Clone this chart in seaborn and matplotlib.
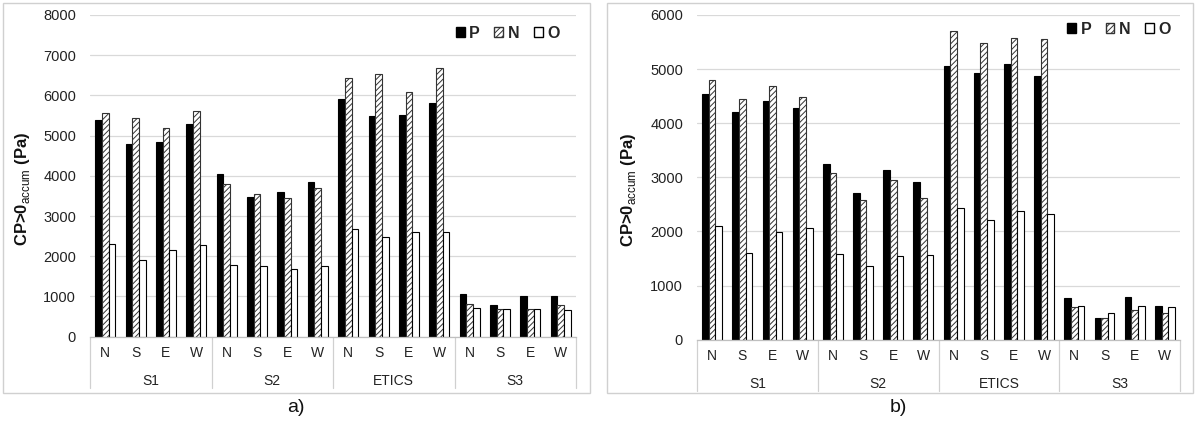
import matplotlib
matplotlib.use("Agg")
import matplotlib.pyplot as plt
from matplotlib.patches import Rectangle, Patch
import seaborn as sns
import pandas as pd

groups = ["S1", "S2", "ETICS", "S3"]
orients = ["N", "S", "E", "W"]
series = ["P", "N", "O"]

P_a = [5390, 4790, 4840, 5290, 4045, 3470, 3600, 3855, 5905, 5490, 5520, 5820, 1065, 785, 1015, 1015]
N_a = [5555, 5440, 5180, 5620, 3790, 3545, 3440, 3700, 6440, 6525, 6075, 6675, 820, 680, 695, 795]
O_a = [2315, 1900, 2155, 2290, 1770, 1745, 1685, 1745, 2680, 2470, 2605, 2605, 720, 680, 695, 670]

P_b = [4535, 4205, 4405, 4285, 3250, 2710, 3135, 2905, 5055, 4920, 5095, 4865, 770, 400, 795, 620]
N_b = [4800, 4440, 4690, 4480, 3075, 2575, 2955, 2610, 5710, 5485, 5570, 5550, 595, 400, 555, 495]
O_b = [2105, 1605, 1990, 2060, 1585, 1365, 1540, 1560, 2430, 2215, 2370, 2330, 630, 495, 630, 595]

sns.set_theme(style="white")
plt.rcParams['font.family'] = ['Liberation Sans', 'DejaVu Sans']
plt.rcParams['mathtext.fontset'] = 'custom'
plt.rcParams['mathtext.rm'] = 'Liberation Sans'
plt.rcParams['mathtext.bf'] = 'Liberation Sans:bold'
plt.rcParams['hatch.linewidth'] = 0.7

W, H = 1197, 425
fig = plt.figure(figsize=(W / 100, H / 100), dpi=100)
fig.patch.set_facecolor('white')

def fx(px):
    return px / W

def fy(py):
    return (H - py) / H

# panel frames
for x0, x1 in [(3, 590), (607, 1193)]:
    fig.patches.append(Rectangle((fx(x0), fy(393)), fx(x1) - fx(x0), fy(3) - fy(393),
                                 transform=fig.transFigure, fill=False,
                                 edgecolor='#d0d0d0', linewidth=1.0, zorder=0))

cats = [f"{g}|{o}" for g in groups for o in orients]

def panel(rect_px, vals, ymax, caption, cap_x, leg_x, leg_dy, lab_x):
    x0, x1, ytop, ybot = rect_px
    ax = fig.add_axes([fx(x0), fy(ybot), fx(x1) - fx(x0), fy(ytop) - fy(ybot)])
    rows = []
    for s, v in zip(series, vals):
        for c, val in zip(cats, v):
            rows.append({"cat": c, "series": s, "val": val})
    df = pd.DataFrame(rows)
    sns.barplot(data=df, x="cat", y="val", hue="series", order=cats, hue_order=series,
                palette={"P": "black", "N": "white", "O": "white"}, width=0.66,
                edgecolor="black", linewidth=0.8, saturation=1, ax=ax, legend=False, errorbar=None)
    for bar in ax.containers[1]:
        bar.set_hatch('//////')
        bar.set_edgecolor('#333333')
    ax.set_xlim(-0.5, 15.5)
    ax.set_ylim(0, ymax)
    ax.set_yticks(range(0, ymax + 1, 1000))
    ax.yaxis.grid(True, color='#d9d9d9', linewidth=0.9)
    ax.set_axisbelow(True)
    for sp in ["top", "right", "left"]:
        ax.spines[sp].set_visible(False)
    ax.spines["bottom"].set_color('#bfbfbf')
    ax.spines["bottom"].set_linewidth(0.9)
    ax.set_xticks(range(16))
    ax.set_xticklabels(orients * 4)
    ax.tick_params(axis='x', length=0, pad=7, labelsize=10, labelcolor='#222222')
    ax.tick_params(axis='y', length=0, pad=10, labelsize=10.5, labelcolor='#222222')
    ax.set_xlabel("")
    axw = x1 - x0
    axh = ybot - ytop
    ax.set_ylabel(r"CP>0$_{\mathrm{accum}}$ (Pa)", fontsize=12, fontweight='bold',
                  color='#111111', ha='center', va='center')
    ax.yaxis.set_label_coords((lab_x - x0) / axw, 0.46)
    trans = ax.get_xaxis_transform()
    for b in [-0.5, 3.5, 7.5, 11.5, 15.5]:
        ax.plot([b, b], [0, -51 / axh], transform=trans, color='#d0d0d0', lw=0.9, clip_on=False)
    for i, g in enumerate(groups):
        ax.text(i * 4 + 1.5, -44 / axh, g, transform=trans, ha='center', va='center',
                fontsize=10, color='#222222')
    handles = [Patch(facecolor='black', edgecolor='black', label='P'),
               Patch(facecolor='white', edgecolor='#333333', hatch='//////', label='N'),
               Patch(facecolor='white', edgecolor='black', label='O')]
    ax.legend(handles=handles, loc='center right', bbox_to_anchor=(leg_x, 1 - leg_dy / axh), ncol=3,
              frameon=False, handlelength=0.55, handleheight=0.55, handletextpad=0.3,
              columnspacing=0.9, borderpad=0.2, prop={'weight': 'bold', 'size': 11.5})
    fig.text(fx(cap_x), fy(408), caption, ha='center', va='center', fontsize=14, color='#111111')
    return ax

panel((90, 576, 15, 336.6), [P_a, N_a, O_a], 8000, "a)", 296, 0.99, 18, 23)
panel((697, 1180, 15, 339.6), [P_b, N_b, O_b], 6000, "b)", 898, 1.005, 14, 628)

fig.savefig("out.png", dpi=100, facecolor='white')
